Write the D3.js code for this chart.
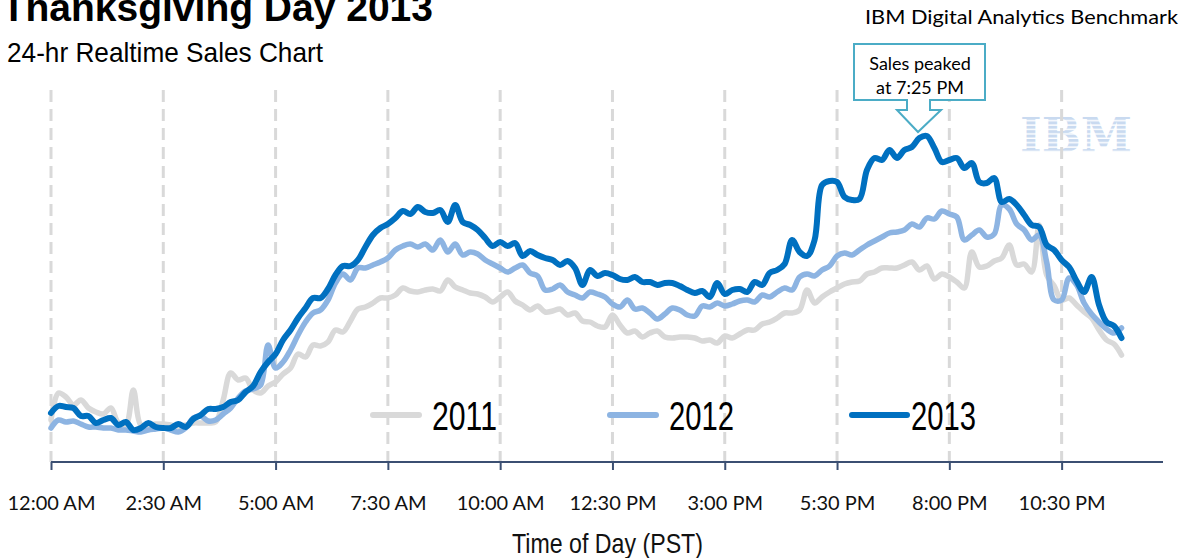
<!DOCTYPE html>
<html><head><meta charset="utf-8">
<script src="https://cdn.jsdelivr.net/npm/d3@7"></script>
<style>body{margin:0;background:#fff;}svg{display:block}</style>
</head><body>
<svg id="chart" width="1186" height="558"></svg>
<script>
// ---- data (relative sales index, sampled every 10 minutes from 12:00 AM) ----
const years = ["2011", "2012", "2013"];
const tickMinutes = [0, 150, 300, 450, 600, 750, 900, 1050, 1200, 1350];
const tickLabels = ["12:00 AM", "2:30 AM", "5:00 AM", "7:30 AM", "10:00 AM", "12:30 PM", "3:00 PM", "5:30 PM", "8:00 PM", "10:30 PM"];
const sampleMinutes = d3.range(0, 1440, 10);

const sales2011 = [42,69,65,57,62,54,50,48,54,39,37,72,37,37,38,38,37,35,37,39,39,39,40,62,89,82,84,72,69,76,
  80,88,94,108,105,117,116,120,132,130,141,153,155,159,164,164,167,174,171,170,172,173,171,182,175,172,169,168,165,160,
  165,170,161,157,152,156,150,151,153,147,149,141,140,136,135,147,137,129,131,125,129,131,125,124,125,125,124,121,122,119,
  126,124,128,132,132,138,140,144,149,149,152,172,159,165,170,174,178,180,181,188,190,194,194,194,197,200,192,196,183,188,
  185,180,174,210,195,196,201,204,217,197,198,190,237,187,176,162,164,157,150,144,132,122,118,107];

const sales2012 = [34,42,40,41,38,35,35,34,34,32,32,31,30,32,33,34,32,30,34,44,46,41,42,48,54,64,71,73,77,117,
  94,100,112,127,140,149,152,162,179,188,182,194,194,197,200,204,212,216,218,215,218,212,222,210,218,207,210,208,202,198,
  194,190,194,197,189,186,172,173,177,170,167,164,170,168,165,158,155,162,153,154,149,143,148,154,152,147,146,156,155,159,
  156,158,161,162,160,167,165,170,174,172,185,188,186,192,196,206,209,207,212,217,221,225,229,230,232,238,235,244,243,251,
  248,245,222,227,232,225,228,257,253,238,232,222,227,200,162,162,184,177,159,148,140,133,129,134];

const sales2013 = [49,56,55,54,46,46,39,42,44,37,40,32,34,39,35,34,34,38,35,43,47,53,53,55,60,62,70,76,90,100,
  108,122,132,144,154,164,164,173,187,196,196,202,215,227,234,238,244,251,248,255,250,249,252,240,257,240,237,232,224,216,
  220,216,219,206,211,207,204,202,197,201,194,177,192,186,189,187,183,182,185,180,180,177,179,179,176,172,169,171,165,179,
  168,172,173,170,180,177,189,192,198,222,210,206,222,277,281,280,265,262,263,292,304,302,312,304,312,315,324,326,314,300,
  302,304,294,299,280,279,284,260,263,257,247,237,235,217,212,202,195,181,170,185,157,140,136,124];

const seriesData = [sales2011, sales2012, sales2013];
const seriesColors = ["#d9d9d9", "#8db4e2", "#0070c0"];

// ---- layout ----
const svg = d3.select("#chart");
const x = d3.scaleLinear().domain([0, 1440]).range([51, 1129]);
const y = d3.scaleLinear().domain([0, 372]).range([462, 90]);

// IBM logo (striped)
const defs = svg.append("defs");
const pat = defs.append("pattern").attr("id", "stripes").attr("patternUnits", "userSpaceOnUse")
  .attr("width", 8).attr("height", 4.4).attr("y", 117);
pat.append("rect").attr("width", 8).attr("height", 3).attr("fill", "#c9daf0");
svg.append("text").attr("x", 1020).attr("y", 152).attr("font-family", "DejaVu Serif")
  .attr("font-weight", "bold").attr("font-size", 48).attr("textLength", 112)
  .attr("lengthAdjust", "spacingAndGlyphs").attr("fill", "url(#stripes)").text("IBM");

// gridlines
svg.append("g").selectAll("line").data(tickMinutes).join("line")
  .attr("x1", d => x(d)).attr("x2", d => x(d)).attr("y1", 90).attr("y2", 462)
  .attr("stroke", "#d9d9d9").attr("stroke-width", 3).attr("stroke-dasharray", "12,7");

// axis
const axis = d3.axisBottom(x).tickValues(tickMinutes).tickFormat((d, i) => tickLabels[i])
  .tickSize(8).tickSizeOuter(0).tickPadding(26);
const gA = svg.append("g").attr("transform", "translate(0,462)").call(axis);
gA.select(".domain").remove();
gA.selectAll(".tick line").attr("stroke", "#3b4f72").attr("stroke-width", 2);
gA.selectAll(".tick text").attr("font-family", "Lato").attr("font-size", 20).attr("fill", "#111");
svg.append("line").attr("x1", x(0)).attr("x2", 1163).attr("y1", 462).attr("y2", 462)
  .attr("stroke", "#3b4f72").attr("stroke-width", 2);

// lines
const line = d3.line().x((d, i) => x(sampleMinutes[i])).y(d => y(d)).curve(d3.curveCatmullRom.alpha(0.5));
svg.append("g").selectAll("path").data(seriesData).join("path")
  .attr("d", d => line(d)).attr("fill", "none")
  .attr("stroke", (d, i) => seriesColors[i]).attr("stroke-width", (d, i) => i === 2 ? 6 : 5.5)
  .attr("stroke-linejoin", "round").attr("stroke-linecap", "round");

// legend
const legendX = [373, 610, 852];
const lg = svg.append("g").selectAll("g").data(years).join("g")
  .attr("transform", (d, i) => `translate(${legendX[i]},415)`);
lg.append("line").attr("x1", 0).attr("x2", (d, i) => i === 2 ? 55 : 46).attr("y1", 0).attr("y2", 0)
  .attr("stroke", (d, i) => seriesColors[i]).attr("stroke-width", 6).attr("stroke-linecap", "round");
lg.append("text").attr("x", 59).attr("y", 15)
  .attr("font-family", "Liberation Sans").attr("font-size", 40)
  .attr("textLength", 65).attr("lengthAdjust", "spacingAndGlyphs").attr("fill", "#000").text(d => d);

// titles
svg.append("text").attr("x", 433).attr("y", 21).attr("text-anchor", "end")
  .attr("font-family", "Liberation Sans").attr("font-weight", "bold").attr("font-size", 39)
  .attr("fill", "#000").text("Thanksgiving Day 2013");
svg.append("text").attr("x", 7).attr("y", 62).attr("font-family", "Liberation Sans").attr("font-size", 28)
  .attr("textLength", 316).attr("lengthAdjust", "spacingAndGlyphs").attr("fill", "#000")
  .text("24-hr Realtime Sales Chart");
svg.append("text").attr("x", 865).attr("y", 24).attr("font-family", "Lato").attr("font-size", 19)
  .attr("textLength", 313).attr("lengthAdjust", "spacingAndGlyphs").attr("fill", "#000")
  .text("IBM Digital Analytics Benchmark");
svg.append("text").attr("x", 512).attr("y", 553).attr("font-family", "Liberation Sans").attr("font-size", 28)
  .attr("textLength", 191).attr("lengthAdjust", "spacingAndGlyphs").attr("fill", "#111")
  .text("Time of Day (PST)");

// callout
svg.append("path")
  .attr("d", "M854,44 H985 V100 H930 V110 H941 L918,132 L897,110 H907 V100 H854 Z")
  .attr("fill", "#fff").attr("stroke", "#4bacc6").attr("stroke-width", 2);
svg.append("text").attr("x", 920).attr("y", 70).attr("text-anchor", "middle").attr("font-family", "Lato")
  .attr("font-size", 18).attr("fill", "#000").text("Sales peaked");
svg.append("text").attr("x", 920).attr("y", 94).attr("text-anchor", "middle").attr("font-family", "Lato")
  .attr("font-size", 18).attr("fill", "#000").text("at 7:25 PM");
</script>
</body></html>
